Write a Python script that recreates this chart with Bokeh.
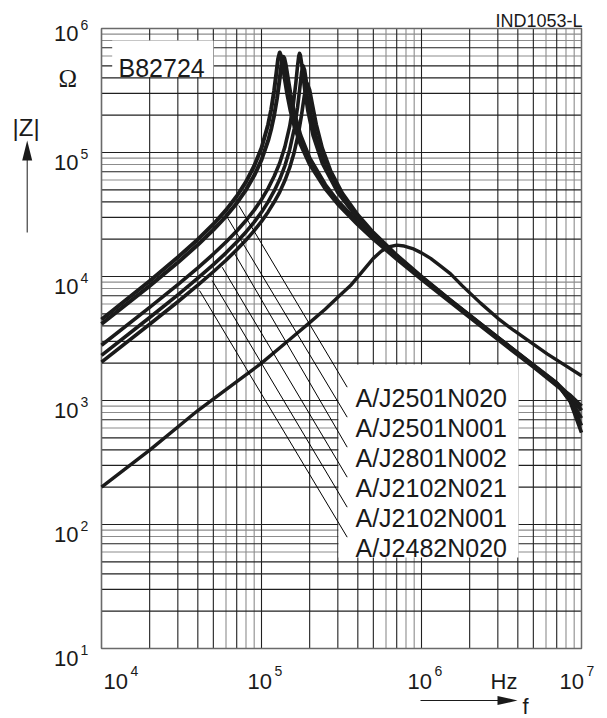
from bokeh.plotting import figure
from bokeh.models import Label, Arrow, PolyAnnotation
from bokeh.embed import file_html
from bokeh.resources import INLINE

# ---------------- data ----------------
part_labels = ["A/J2501N020", "A/J2501N001", "A/J2801N002",
               "A/J2102N021", "A/J2102N001", "A/J2482N020"]

f_a1 = [1e4, 2e4, 3e4, 4e4, 5e4, 6e4, 7e4, 8e4, 9e4, 1e5, 1.1e5, 1.15e5, 1.2e5,
        1.24e5, 1.27e5, 1.30e5, 1.33e5, 1.36e5, 1.40e5, 1.45e5, 1.52e5, 1.6e5,
        1.75e5, 2e5, 2.5e5, 3e5, 4e5, 5e5, 7e5, 1e6, 1.5e6, 2e6, 3e6, 5e6, 7e6,
        8.5e6, 1e7]
z_a1 = [4500, 9200, 14300, 19900, 26400, 34300, 44400, 58000, 77800, 108600,
        168200, 223000, 317000, 444700, 570000, 640000, 593000, 499000, 386700,
        292700, 216000, 166200, 117300, 80400, 51300, 38400, 26200, 20100, 13850,
        9520, 6290, 4700, 3120, 1870, 1320, 1100, 900]

f_a2 = [1e4, 2e4, 3e4, 4e4, 5e4, 6e4, 7e4, 8e4, 9e4, 1e5, 1.1e5, 1.15e5, 1.2e5,
        1.25e5, 1.29e5, 1.32e5, 1.35e5, 1.37e5, 1.39e5, 1.42e5, 1.46e5, 1.52e5,
        1.6e5, 1.75e5, 2e5, 2.5e5, 3e5, 4e5, 5e5, 7e5, 1e6, 1.5e6, 2e6, 3e6, 5e6,
        7e6, 8.5e6, 1e7]
z_a2 = [4140, 8410, 12970, 18000, 23750, 30570, 39000, 50000, 65200, 87200,
        124600, 154700, 199700, 272500, 366900, 465600, 564000, 590000, 573300,
        505500, 403200, 293100, 210700, 138300, 89700, 55060, 40560, 27280, 20820,
        14310, 9820, 6470, 4840, 3220, 1930, 1380, 1080, 830]

f_b1 = [1e4, 2e4, 3e4, 4e4, 5e4, 6e4, 7e4, 8e4, 9e4, 1e5, 1.1e5, 1.2e5, 1.3e5,
        1.4e5, 1.5e5, 1.58e5, 1.64e5, 1.68e5, 1.71e5, 1.73e5, 1.75e5, 1.78e5,
        1.82e5, 1.87e5, 1.95e5, 2.1e5, 2.4e5, 3e5, 4e5, 5e5, 7e5, 1e6, 1.5e6,
        2e6, 3e6, 5e6, 7e6, 8.5e6, 1e7]
z_b1 = [2790, 5640, 8600, 11750, 15170, 18970, 23270, 28290, 34310, 41750,
        51340, 64300, 82300, 111000, 162300, 244000, 366000, 499600, 602600,
        630000, 609000, 527600, 410700, 307900, 215300, 137600, 81800, 47520,
        29260, 21620, 14480, 9810, 6430, 4800, 3180, 1905, 1360, 1030, 720]

f_b2 = [1e4, 2e4, 3e4, 4e4, 5e4, 6e4, 7e4, 8e4, 9e4, 1e5, 1.1e5, 1.2e5, 1.3e5,
        1.4e5, 1.5e5, 1.6e5, 1.68e5, 1.74e5, 1.78e5, 1.82e5, 1.86e5, 1.90e5,
        1.96e5, 2.05e5, 2.2e5, 2.5e5, 3e5, 4e5, 5e5, 7e5, 1e6, 1.5e6, 2e6, 3e6,
        5e6, 7e6, 8.5e6, 1e7]
z_b2 = [2310, 4670, 7110, 9690, 12470, 15520, 18950, 22870, 27470, 33030,
        39970, 48950, 60750, 78100, 105400, 154500, 232000, 341000, 441700,
        500000, 462000, 386700, 288900, 201400, 132700, 80260, 50400, 30120,
        22030, 14640, 9880, 6470, 4820, 3200, 1910, 1365, 1000, 630]

f_c = [1e4, 2e4, 3e4, 4e4, 5e4, 6e4, 7e4, 8e4, 9e4, 1e5, 1.1e5, 1.2e5, 1.3e5,
       1.4e5, 1.5e5, 1.6e5, 1.7e5, 1.78e5, 1.85e5, 1.93e5, 2.0e5, 2.08e5, 2.2e5,
       2.4e5, 2.7e5, 3.2e5, 4e5, 5e5, 7e5, 1e6, 1.5e6, 2e6, 3e6, 5e6, 7e6,
       8.5e6, 1e7]
z_c = [2040, 4120, 6260, 8510, 10920, 13530, 16420, 19670, 23430, 27840,
       33180, 39850, 48000, 59350, 75400, 100100, 141900, 201200, 284400,
       360000, 320300, 244900, 168400, 108500, 71640, 47000, 31450, 22680,
       14920, 10020, 6540, 4870, 3230, 1930, 1380, 980, 550]

f_e = [1e4, 2e4, 4e4, 7e4, 1e5, 1.5e5, 2e5, 2.5e5, 3e5, 3.6e5, 4.2e5, 5e5,
       5.6e5, 6.2e5, 7e5, 7.8e5, 8.8e5, 1e6, 1.14e6, 1.3e6, 1.52e6, 1.8e6,
       2.34e6, 3e6, 3.78e6, 5e6, 6.1e6, 8e6, 1e7]
z_e = [200, 398, 830, 1420, 2000, 3100, 4250, 5450, 6800, 8450, 10700, 14000,
       16000, 17300, 17900, 17600, 16800, 15500, 14000, 12300, 10500, 8400,
       6100, 4600, 3670, 2850, 2380, 1900, 1585]

x_ticks = [1e4, 1e5, 1e6, 1e7]
x_exps = ["4", "5", "6", "7"]
y_ticks = [1e1, 1e2, 1e3, 1e4, 1e5, 1e6]
y_exps = ["1", "2", "3", "4", "5", "6"]
minor_mult = [2, 3, 4, 5, 6, 7, 8, 9]

# ---------------- layout helpers (image pixel -> data) ----------------
FX0, FX1, FY0, FY1 = 101.0, 581.0, 28.0, 648.0   # chart frame in image pixels
DX = (FX1 - FX0) / 3.0
DY = (FY1 - FY0) / 5.0
W, H = 607, 718


def X(px):
    return 10 ** (4 + (px - FX0) / DX)


def Y(py):
    return 10 ** (1 + (FY1 - py) / DY)


p = figure(width=W, height=H, x_axis_type="log", y_axis_type="log",
           x_range=(X(0), X(W)), y_range=(Y(H), Y(0)),
           output_backend="svg", toolbar_location=None,
           min_border_left=0, min_border_right=0, min_border_top=0, min_border_bottom=0)
p.xaxis.visible = False
p.yaxis.visible = False
p.grid.visible = False
p.outline_line_color = None
p.background_fill_color = "white"
p.border_fill_color = "white"

xmin, xmax, ymin, ymax = x_ticks[0], x_ticks[-1], y_ticks[0], y_ticks[-1]
dark = {1, 2, 3, 4, 5, 7}
vx_d, vx_l, hy_d, hy_l = [], [], [], []
for t in x_ticks[:-1]:
    for k in [1] + minor_mult:
        (vx_d if k in dark else vx_l).append(k * t)
for t in y_ticks[:-1]:
    for k in [1] + minor_mult:
        (hy_d if k in dark else hy_l).append(k * t)

# grid lines (light first, dark on top)
p.segment(x0=vx_l, x1=vx_l, y0=[ymin] * len(vx_l), y1=[ymax] * len(vx_l),
          line_color="#8c8c8c", line_width=1.1)
p.segment(x0=[xmin] * len(hy_l), x1=[xmax] * len(hy_l), y0=hy_l, y1=hy_l,
          line_color="#8c8c8c", line_width=1.1)
p.segment(x0=vx_d, x1=vx_d, y0=[ymin] * len(vx_d), y1=[ymax] * len(vx_d),
          line_color="#202020", line_width=1.1)
p.segment(x0=[xmin] * len(hy_d), x1=[xmax] * len(hy_d), y0=hy_d, y1=hy_d,
          line_color="#202020", line_width=1.1)
# frame
p.quad(left=[xmin], right=[xmax], bottom=[ymin], top=[ymax],
       fill_color=None, line_color="#6a6a6a", line_width=1.5)

# white boxes behind texts
p.quad(left=[X(111.7), X(338)], right=[X(213), X(518)],
       top=[Y(40), Y(364)], bottom=[Y(76.5), Y(557)],
       fill_color="white", line_color=None)

curve_col = "#1b1b1b"
for fx, zy, w in [(f_e, z_e, 3.4), (f_c, z_c, 3.6), (f_b2, z_b2, 3.6),
                  (f_b1, z_b1, 3.6), (f_a2, z_a2, 4.0), (f_a1, z_a1, 4.0)]:
    p.line(fx, zy, line_color=curve_col, line_width=w, line_join="round")

# leader lines (image pixel endpoints)
lead_top = [(238.3, 205), (226.7, 216.7), (233.3, 251.7), (221.7, 266.7), (211.7, 280), (199, 290)]
lead_bot_y = [386.7, 416.7, 446.7, 476.7, 506.7, 536.7]
p.segment(x0=[X(a) for a, b in lead_top], y0=[Y(b) for a, b in lead_top],
          x1=[X(346.7)] * 6, y1=[Y(b) for b in lead_bot_y],
          line_color="black", line_width=1)

FONT = "Liberation Sans"


def lab(txt, px, py, size, align="left", font=FONT):
    p.add_layout(Label(x=X(px), y=Y(py), text=txt, text_font=font,
                       text_font_size=f"{size}px", text_align=align,
                       text_baseline="alphabetic", text_color="#1a1a1a"))


for i, t in enumerate(part_labels):
    lab(t, 355, 397 + 30 * i, 25)

lab("B82724", 118, 67.5, 25)
lab("IND1053-L", 582, 20.5, 18, align="right")
lab("|Z|", 12, 127, 24)
lab("\u03a9", 58, 78, 25, font="Liberation Serif")
lab("Hz", 490, 681, 22)
lab("f", 522, 706, 22)

# y tick labels
for i, e in enumerate(y_exps):
    ty = FY1 - i * DY
    shift = -5 if i == len(y_exps) - 1 else 0
    lab("10", 78, ty + 10 + shift, 22, align="right")
    lab(e, 80, ty + 1 + shift, 14)

# x tick labels
x_left = [103, 247, 407, 559]
for i, e in enumerate(x_exps):
    lab("10", x_left[i], 681, 22)
    lab(e, x_left[i] + 27, 670, 14)

# axis arrows
p.add_layout(Arrow(end=None, x_start=X(26.7), y_start=Y(232), x_end=X(26.7), y_end=Y(155),
                   line_color="#1a1a1a", line_width=1))
p.add_layout(PolyAnnotation(xs=[X(26.7), X(21.7), X(31.7)], ys=[Y(140), Y(160), Y(160)],
                            fill_color="#1a1a1a", fill_alpha=1, line_color=None))
p.add_layout(Arrow(end=None, x_start=X(420), y_start=Y(700), x_end=X(500), y_end=Y(700),
                   line_color="#1a1a1a", line_width=1))
p.add_layout(PolyAnnotation(xs=[X(517), X(497), X(497)], ys=[Y(700), Y(695.5), Y(704.5)],
                            fill_color="#1a1a1a", fill_alpha=1, line_color=None))

open("out.html", "w").write(file_html(p, INLINE))
